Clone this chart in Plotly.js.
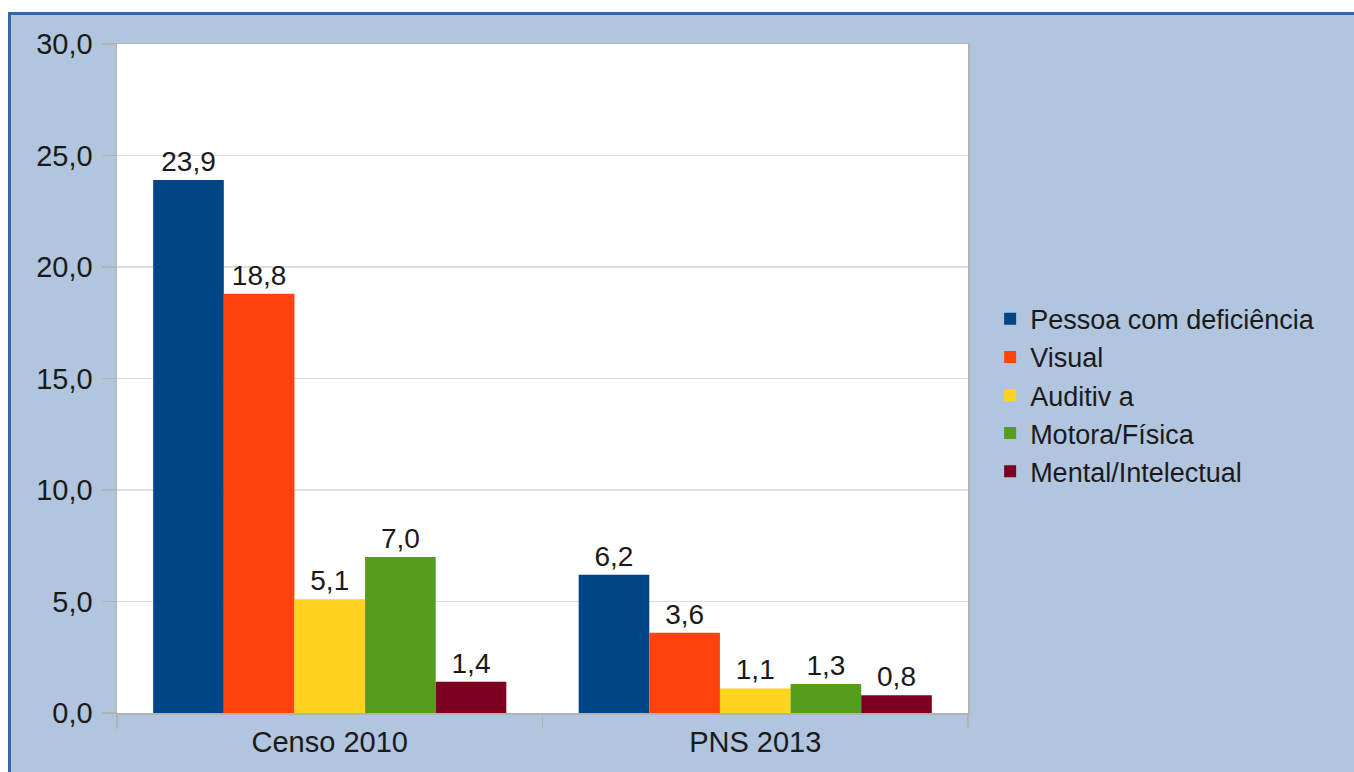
<!DOCTYPE html>
<html>
<head>
<meta charset="utf-8">
<script src="https://cdn.plot.ly/plotly-3.0.1.min.js"></script>
<style>
  html, body { margin: 0; padding: 0; background: #ffffff; width: 1354px; height: 772px; overflow: hidden; }
  #frame { position: absolute; left: 8px; top: 12px; width: 1400px; height: 800px;
           background: #b1c5de; border-left: 3px solid #3465a4; border-top: 3px solid #3465a4; }
  #chart { position: absolute; left: 0; top: 0; width: 1354px; height: 772px; }
</style>
</head>
<body>
<div id="frame"></div>
<div id="chart"></div>
<script>
const categories = ["Censo 2010", "PNS 2013"];
const seriesNames = ["Pessoa com deficiência", "Visual", "Auditiv a", "Motora/Física", "Mental/Intelectual"];
const pessoa = [23.9, 6.2];
const visual = [18.8, 3.6];
const auditiva = [5.1, 1.1];
const motora = [7.0, 1.3];
const mental = [1.4, 0.8];
const yTicks = [0, 5, 10, 15, 20, 25, 30];
const colors = ["#004586", "#ff420e", "#ffd320", "#579d1c", "#7e0021"];

const values = [pessoa, visual, auditiva, motora, mental];
const FAMILY = "Liberation Sans, Arial, sans-serif";
const textFont = { family: FAMILY, size: 29, color: "#1a1a1a" };

const traces = values.map((v, i) => ({
  type: "bar",
  name: seriesNames[i],
  x: categories,
  y: v,
  marker: { color: colors[i], line: { width: 0 } },
  texttemplate: "%{y:.1f}",
  textposition: "outside",
  cliponaxis: false,
  textfont: { family: FAMILY, size: 28, color: "#1a1a1a" },
  hoverinfo: "skip"
}));

const layout = {
  width: 1354,
  height: 772,
  paper_bgcolor: "rgba(0,0,0,0)",
  plot_bgcolor: "#ffffff",
  separators: ",.",
  font: textFont,
  margin: { l: 117, r: 386, t: 44, b: 59, pad: 0 },
  barmode: "group",
  bargap: 0.17,
  bargroupgap: 0,
  showlegend: true,
  legend: {
    x: 1.026, xanchor: "left",
    y: 0.475, yanchor: "middle",
    bgcolor: "rgba(0,0,0,0)",
    font: { family: FAMILY, size: 27, color: "#1a1a1a" },
    tracegroupgap: 0,
    itemclick: false
  },
  xaxis: {
    type: "category",
    tickson: "boundaries",
    ticks: "outside",
    ticklen: 14,
    tickcolor: "#b3b3b3",
    tickwidth: 1.5,
    ticklabelstandoff: 3,
    showline: true,
    linecolor: "#b3b3b3",
    linewidth: 1.5,
    mirror: true,
    showgrid: false,
    tickfont: textFont,
    fixedrange: true
  },
  yaxis: {
    range: [0, 30],
    tickvals: yTicks,
    tickformat: ".1f",
    ticks: "outside",
    ticklen: 14,
    tickcolor: "#b3b3b3",
    tickwidth: 1.5,
    ticklabelstandoff: 3,
    showline: true,
    linecolor: "#b3b3b3",
    linewidth: 1.5,
    mirror: true,
    showgrid: true,
    gridcolor: "#dedede",
    gridwidth: 1.5,
    zeroline: false,
    tickfont: textFont,
    fixedrange: true
  }
};

Plotly.newPlot("chart", traces, layout, { displayModeBar: false, staticPlot: true });
</script>
</body>
</html>
